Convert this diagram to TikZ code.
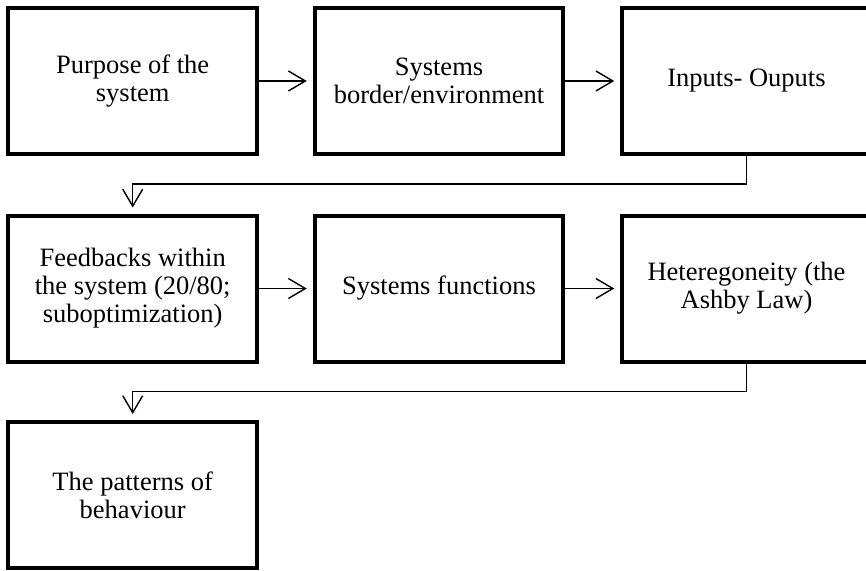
\documentclass[tikz,border=0pt]{standalone}
\usepackage{fontspec}
\setmainfont{Liberation Serif}
\usetikzlibrary{arrows.meta}
\begin{document}
\begin{tikzpicture}[x=1pt,y=-1pt,
  stage/.style={draw=black, line width=4pt, fill=white,
    minimum width=248.5pt, minimum height=146pt, inner sep=0pt,
    align=center, font=\fontsize{26.5}{28}\selectfont},
  conn/.style={line width=1.4pt,
    -{Straight Barb[length=17pt,width=20pt,line width=1.4pt]}, shorten >=6pt},
  link/.style={line width=1.4pt}]
  \useasboundingbox (0,0) rectangle (866,570);
  \clip (0,0) rectangle (866,570);

  % first row
  \node[stage] (purpose) at (132.7,81) {Purpose of the\\system};
  \node[stage] (border)  at (439,81)   {Systems\\border/environment};
  \node[stage] (io)      at (746.5,81) {Inputs- Ouputs};

  % second row
  \node[stage] (feedback) at (132.7,288.5) {Feedbacks within\\the system (20/80;\\suboptimization)};
  \node[stage] (funcs)    at (439,288.5)   {Systems functions};
  \node[stage] (hetero)   at (746.5,288.5) {Heteregoneity (the\\Ashby Law)};

  % third row
  \node[stage] (patterns) at (132.7,495) {The patterns of\\behaviour};

  % arrows along each row
  \draw[conn] (purpose) -- (border);
  \draw[conn] (border) -- (io);
  \draw[conn] (feedback) -- (funcs);
  \draw[conn] (funcs) -- (hetero);

  % return lines to the next row
  \coordinate (turnA) at (746.5,184);
  \coordinate (turnB) at (746.5,391.5);
  \draw[link] (io.south) -- (turnA);
  \draw[conn] (turnA) -| (feedback.north);
  \draw[link] (hetero.south) -- (turnB);
  \draw[conn] (turnB) -| (patterns.north);
\end{tikzpicture}
\end{document}
